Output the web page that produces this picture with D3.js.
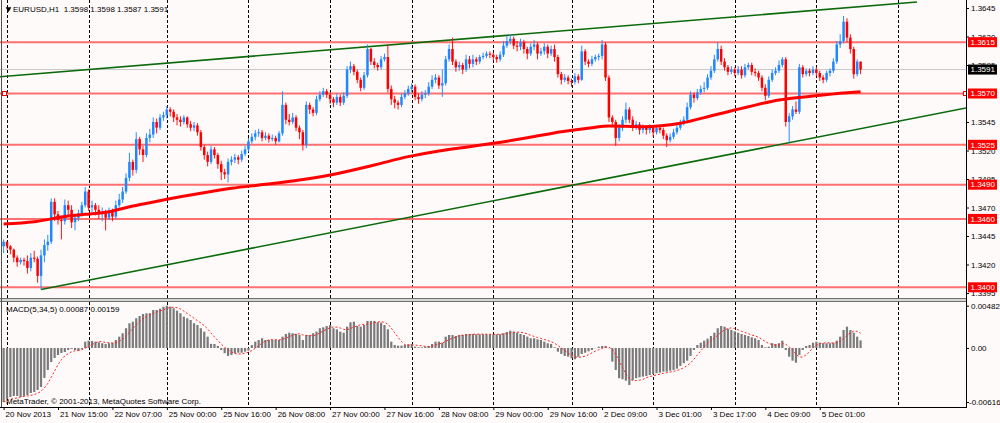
<!DOCTYPE html>
<html>
<head>
<meta charset="utf-8">
<script src="https://cdn.jsdelivr.net/npm/d3@7"></script>
<style>
  html, body { margin: 0; padding: 0; background: #fffafa; }
  svg { display: block; font-family: "Liberation Sans", Arial, sans-serif; }
  text { white-space: pre; }
</style>
</head>
<body>
<div id="chart"></div>
<script>
// EURUSD H1 candles [open, high, low, close], split by trading week
const week1 = [
  [1.3436,1.3442,1.3430,1.3440],[1.3440,1.3440,1.3433,1.3436],[1.3436,1.3437,1.3429,1.3433],[1.3433,1.3434,1.3422,1.3426],
  [1.3426,1.3428,1.3418,1.3422],[1.3422,1.3426,1.3420,1.3424],[1.3424,1.3426,1.3419,1.3423],[1.3423,1.3428,1.3412,1.3417],
  [1.3417,1.3430,1.3414,1.3426],[1.3426,1.3432,1.3422,1.3425],[1.3425,1.3427,1.3404,1.3410],[1.3410,1.3433,1.3398,1.3428],
  [1.3428,1.3442,1.3422,1.3437],[1.3437,1.3446,1.3432,1.3440],[1.3440,1.3478,1.3438,1.3475],[1.3475,1.3478,1.3458,1.3464],
  [1.3464,1.3467,1.3455,1.3459],[1.3459,1.3462,1.3442,1.3458],[1.3458,1.3477,1.3455,1.3472],[1.3472,1.3476,1.3462,1.3468],
  [1.3468,1.3472,1.3452,1.3457],[1.3457,1.3464,1.3450,1.3461],[1.3461,1.3468,1.3458,1.3465],[1.3465,1.3475,1.3462,1.3472],
  [1.3472,1.3488,1.3470,1.3484],[1.3484,1.3486,1.3467,1.3470],[1.3470,1.3476,1.3466,1.3472],[1.3472,1.3474,1.3463,1.3468],
  [1.3468,1.3472,1.3460,1.3464],[1.3464,1.3470,1.3458,1.3466],[1.3466,1.3468,1.3450,1.3461],[1.3461,1.3470,1.3459,1.3466],
  [1.3466,1.3469,1.3458,1.3462],[1.3462,1.3476,1.3460,1.3472],[1.3472,1.3482,1.3470,1.3477],[1.3477,1.3488,1.3474,1.3484],
  [1.3484,1.3500,1.3482,1.3496],[1.3496,1.3518,1.3493,1.3510],[1.3510,1.3512,1.3498,1.3503],[1.3503,1.3536,1.3500,1.3530],
  [1.3530,1.3532,1.3516,1.3521],[1.3521,1.3524,1.3510,1.3516],[1.3516,1.3535,1.3514,1.3531],[1.3531,1.3539,1.3527,1.3534],
  [1.3534,1.3549,1.3531,1.3545],[1.3545,1.3548,1.3535,1.3540],[1.3540,1.3552,1.3538,1.3549],[1.3549,1.3554,1.3546,1.3551]
];
const week2 = [
  [1.3551,1.3559,1.3548,1.3556],[1.3556,1.3558,1.3550,1.3554],[1.3554,1.3556,1.3545,1.3549],[1.3549,1.3552,1.3542,1.3547],
  [1.3547,1.3550,1.3541,1.3545],[1.3545,1.3551,1.3543,1.3549],[1.3549,1.3550,1.3540,1.3543],[1.3543,1.3546,1.3537,1.3540],
  [1.3540,1.3545,1.3537,1.3542],[1.3542,1.3544,1.3533,1.3536],[1.3536,1.3538,1.3520,1.3523],[1.3523,1.3525,1.3512,1.3516],
  [1.3516,1.3519,1.3506,1.3510],[1.3510,1.3524,1.3508,1.3521],[1.3521,1.3523,1.3513,1.3516],[1.3516,1.3518,1.3504,1.3508],
  [1.3508,1.3511,1.3494,1.3501],[1.3501,1.3504,1.3495,1.3499],[1.3499,1.3513,1.3492,1.3510],[1.3510,1.3515,1.3507,1.3512],
  [1.3512,1.3517,1.3509,1.3514],[1.3514,1.3516,1.3508,1.3512],[1.3512,1.3520,1.3510,1.3517],[1.3517,1.3524,1.3515,1.3521],
  [1.3521,1.3531,1.3519,1.3528],[1.3528,1.3535,1.3526,1.3532],[1.3532,1.3538,1.3529,1.3535],[1.3535,1.3539,1.3532,1.3536],
  [1.3536,1.3538,1.3528,1.3531],[1.3531,1.3536,1.3529,1.3533],[1.3533,1.3535,1.3527,1.3530],[1.3530,1.3534,1.3528,1.3531],
  [1.3531,1.3533,1.3525,1.3528],[1.3528,1.3537,1.3527,1.3535],[1.3535,1.3572,1.3533,1.3560],[1.3560,1.3562,1.3543,1.3547],
  [1.3547,1.3552,1.3542,1.3545],[1.3545,1.3553,1.3543,1.3549],[1.3549,1.3551,1.3537,1.3540],[1.3540,1.3542,1.3530,1.3536],
  [1.3536,1.3538,1.3520,1.3525],[1.3525,1.3563,1.3522,1.3560],[1.3560,1.3562,1.3552,1.3556],[1.3556,1.3558,1.3550,1.3553],
  [1.3553,1.3568,1.3551,1.3565],[1.3565,1.3572,1.3563,1.3569],[1.3569,1.3575,1.3567,1.3572],[1.3572,1.3574,1.3566,1.3569],
  [1.3569,1.3571,1.3561,1.3565],[1.3565,1.3567,1.3558,1.3562],[1.3562,1.3570,1.3560,1.3567],[1.3567,1.3569,1.3559,1.3562],
  [1.3562,1.3571,1.3560,1.3568],[1.3568,1.3594,1.3566,1.3591],[1.3591,1.3598,1.3588,1.3594],[1.3594,1.3596,1.3586,1.3589],
  [1.3589,1.3591,1.3579,1.3582],[1.3582,1.3584,1.3572,1.3575],[1.3575,1.3589,1.3573,1.3586],[1.3586,1.3613,1.3584,1.3609],
  [1.3609,1.3610,1.3595,1.3598],[1.3598,1.3601,1.3592,1.3595],[1.3595,1.3597,1.3590,1.3593],[1.3593,1.3603,1.3591,1.3600],
  [1.3600,1.3605,1.3598,1.3602],[1.3602,1.3613,1.3571,1.3574],[1.3574,1.3577,1.3560,1.3565],[1.3565,1.3568,1.3557,1.3562],
  [1.3562,1.3564,1.3556,1.3560],[1.3560,1.3570,1.3558,1.3567],[1.3567,1.3573,1.3565,1.3570],[1.3570,1.3577,1.3568,1.3574],
  [1.3574,1.3579,1.3571,1.3576],[1.3576,1.3578,1.3564,1.3567],[1.3567,1.3570,1.3561,1.3565],[1.3565,1.3572,1.3563,1.3569],
  [1.3569,1.3573,1.3566,1.3570],[1.3570,1.3580,1.3568,1.3576],[1.3576,1.3586,1.3574,1.3582],[1.3582,1.3587,1.3579,1.3584],
  [1.3584,1.3586,1.3574,1.3577],[1.3577,1.3591,1.3567,1.3579],[1.3579,1.3603,1.3577,1.3600],[1.3600,1.3613,1.3598,1.3609],
  [1.3609,1.3619,1.3595,1.3598],[1.3598,1.3600,1.3589,1.3593],[1.3593,1.3598,1.3590,1.3595],[1.3595,1.3597,1.3587,1.3591],
  [1.3591,1.3604,1.3589,1.3600],[1.3600,1.3603,1.3592,1.3596],[1.3596,1.3604,1.3593,1.3600],[1.3600,1.3602,1.3595,1.3598],
  [1.3598,1.3604,1.3596,1.3602],[1.3602,1.3606,1.3600,1.3603],[1.3603,1.3607,1.3601,1.3605],[1.3605,1.3607,1.3601,1.3604],
  [1.3604,1.3606,1.3599,1.3602],[1.3602,1.3604,1.3597,1.3600],[1.3600,1.3607,1.3598,1.3604],[1.3604,1.3616,1.3602,1.3612],
  [1.3612,1.3620,1.3610,1.3616],[1.3616,1.3622,1.3613,1.3618],[1.3618,1.3620,1.3609,1.3612],[1.3612,1.3616,1.3607,1.3611],
  [1.3611,1.3618,1.3608,1.3615],[1.3615,1.3617,1.3605,1.3609],[1.3609,1.3611,1.3600,1.3605],[1.3605,1.3614,1.3603,1.3611],
  [1.3611,1.3617,1.3608,1.3613],[1.3613,1.3615,1.3600,1.3605],[1.3605,1.3610,1.3603,1.3607],[1.3607,1.3614,1.3604,1.3611],
  [1.3611,1.3613,1.3601,1.3605],[1.3605,1.3612,1.3603,1.3609],[1.3609,1.3613,1.3598,1.3602],[1.3602,1.3604,1.3584,1.3587],
  [1.3587,1.3589,1.3578,1.3582],[1.3582,1.3587,1.3580,1.3584],[1.3584,1.3586,1.3578,1.3581]
];
const week3 = [
  [1.3581,1.3583,1.3576,1.3580],[1.3580,1.3588,1.3578,1.3585],[1.3585,1.3587,1.3579,1.3582],[1.3582,1.3612,1.3581,1.3607],
  [1.3607,1.3609,1.3595,1.3598],[1.3598,1.3600,1.3593,1.3596],[1.3596,1.3603,1.3594,1.3600],[1.3600,1.3604,1.3598,1.3602],
  [1.3602,1.3605,1.3599,1.3603],[1.3603,1.3617,1.3600,1.3613],[1.3613,1.3615,1.3581,1.3584],[1.3584,1.3586,1.3545,1.3549],
  [1.3549,1.3551,1.3541,1.3545],[1.3545,1.3547,1.3524,1.3531],[1.3531,1.3543,1.3528,1.3540],[1.3540,1.3550,1.3537,1.3547],
  [1.3547,1.3562,1.3544,1.3556],[1.3556,1.3558,1.3544,1.3547],[1.3547,1.3550,1.3537,1.3540],[1.3540,1.3546,1.3538,1.3543],
  [1.3543,1.3545,1.3534,1.3538],[1.3538,1.3543,1.3535,1.3540],[1.3540,1.3542,1.3534,1.3538],[1.3538,1.3543,1.3535,1.3540],
  [1.3540,1.3542,1.3532,1.3536],[1.3536,1.3542,1.3534,1.3540],[1.3540,1.3542,1.3535,1.3538],[1.3538,1.3540,1.3530,1.3533],
  [1.3533,1.3535,1.3523,1.3529],[1.3529,1.3535,1.3527,1.3532],[1.3532,1.3539,1.3530,1.3536],[1.3536,1.3543,1.3534,1.3540],
  [1.3540,1.3547,1.3538,1.3544],[1.3544,1.3550,1.3542,1.3547],[1.3547,1.3562,1.3545,1.3558],[1.3558,1.3572,1.3556,1.3569],
  [1.3569,1.3571,1.3562,1.3566],[1.3566,1.3574,1.3564,1.3571],[1.3571,1.3577,1.3569,1.3574],[1.3574,1.3580,1.3571,1.3575],
  [1.3575,1.3587,1.3573,1.3584],[1.3584,1.3594,1.3582,1.3590],[1.3590,1.3604,1.3588,1.3600],[1.3600,1.3615,1.3598,1.3609],
  [1.3609,1.3612,1.3595,1.3598],[1.3598,1.3601,1.3590,1.3593],[1.3593,1.3595,1.3586,1.3589],[1.3589,1.3594,1.3587,1.3591],
  [1.3591,1.3593,1.3585,1.3588],[1.3588,1.3594,1.3586,1.3591],[1.3591,1.3594,1.3583,1.3586],[1.3586,1.3596,1.3584,1.3593],
  [1.3593,1.3597,1.3591,1.3595],[1.3595,1.3597,1.3586,1.3589],[1.3589,1.3592,1.3585,1.3588],[1.3588,1.3590,1.3581,1.3584],
  [1.3584,1.3586,1.3572,1.3575],[1.3575,1.3578,1.3564,1.3568],[1.3568,1.3585,1.3566,1.3582],[1.3582,1.3591,1.3580,1.3588],
  [1.3588,1.3593,1.3586,1.3590],[1.3590,1.3599,1.3588,1.3595],[1.3595,1.3602,1.3593,1.3600],[1.3600,1.3602,1.3541,1.3545],
  [1.3545,1.3553,1.3527,1.3550],[1.3550,1.3559,1.3547,1.3556],[1.3556,1.3563,1.3552,1.3554],[1.3554,1.3596,1.3552,1.3593],
  [1.3593,1.3595,1.3584,1.3587],[1.3587,1.3592,1.3585,1.3590],[1.3590,1.3592,1.3585,1.3588],[1.3588,1.3594,1.3586,1.3591],
  [1.3591,1.3593,1.3585,1.3588],[1.3588,1.3590,1.3581,1.3584],[1.3584,1.3586,1.3579,1.3582],[1.3582,1.3590,1.3580,1.3588],
  [1.3588,1.3592,1.3585,1.3590],[1.3590,1.3601,1.3588,1.3598],[1.3598,1.3616,1.3596,1.3613],[1.3613,1.3622,1.3610,1.3616],
  [1.3616,1.3638,1.3614,1.3633],[1.3633,1.3636,1.3615,1.3619],[1.3619,1.3622,1.3605,1.3609],[1.3609,1.3611,1.3583,1.3587],
  [1.3587,1.3600,1.3585,1.3598],[1.3598,1.3598,1.3587,1.3591]
];

// MACD(5,34,5) main line, same bar order
const macd1 = [
  -0.00616,-0.00581,-0.00559,-0.00547,-0.00547,-0.00559,-0.00547,-0.00536,-0.00513,-0.00502,
  -0.00479,-0.00445,-0.00342,-0.00251,-0.00160,-0.00114,-0.00080,-0.00057,-0.00046,-0.00023,
  -0.00011,-0.00023,-0.00034,-0.00011,0.00072,0.00083,0.00080,0.00072,0.00065,0.00054,
  0.00046,0.00054,0.00060,0.00091,0.00129,0.00168,0.00225,0.00282,0.00300,0.00339,
  0.00365,0.00388,0.00396,0.00396,0.00433,0.00433,0.00448,0.00470
];
const macd2 = [
  0.00482,0.00471,0.00453,0.00425,0.00396,0.00357,0.00339,0.00319,0.00282,0.00262,
  0.00225,0.00186,0.00129,0.00046,0.00046,0.00023,-0.00023,-0.00060,-0.00091,-0.00080,
  -0.00060,-0.00054,-0.00054,-0.00042,-0.00031,0.00034,0.00072,0.00091,0.00111,0.00091,
  0.00091,0.00091,0.00091,0.00091,0.00129,0.00160,0.00174,0.00168,0.00160,0.00148,
  0.00091,0.00148,0.00148,0.00168,0.00186,0.00225,0.00236,0.00251,0.00262,0.00225,
  0.00213,0.00186,0.00174,0.00243,0.00293,0.00300,0.00251,0.00243,0.00262,0.00308,
  0.00308,0.00308,0.00293,0.00288,0.00262,0.00213,0.00072,0.00034,0.00026,0.00026,
  0.00034,0.00042,0.00046,0.00015,0.00008,0.00008,0.00015,0.00023,0.00046,0.00072,
  0.00072,0.00060,0.00129,0.00148,0.00148,0.00137,0.00148,0.00148,0.00160,0.00160,
  0.00160,0.00156,0.00156,0.00156,0.00156,0.00156,0.00156,0.00156,0.00156,0.00168,
  0.00182,0.00197,0.00186,0.00174,0.00160,0.00148,0.00129,0.00111,0.00111,0.00099,
  0.00091,0.00072,0.00054,0.00046,0.00008,-0.00042,-0.00068,-0.00091,-0.00099
];
const macd3 = [
  -0.00117,-0.00129,-0.00099,-0.00068,-0.00054,-0.00038,-0.00023,-0.00003,0.00015,0.00023,
  0.00023,-0.00003,-0.00156,-0.00251,-0.00345,-0.00357,-0.00373,-0.00422,-0.00365,-0.00345,
  -0.00334,-0.00327,-0.00319,-0.00308,-0.00296,-0.00288,-0.00282,-0.00270,-0.00270,-0.00259,
  -0.00251,-0.00236,-0.00205,-0.00174,-0.00145,-0.00091,-0.00023,0.00034,0.00060,0.00083,
  0.00106,0.00137,0.00174,0.00225,0.00251,0.00243,0.00220,0.00205,0.00190,0.00174,
  0.00160,0.00148,0.00137,0.00122,0.00111,0.00091,0.00034,0.00008,0.00015,0.00054,
  0.00046,0.00054,0.00083,-0.00023,-0.00099,-0.00145,-0.00168,-0.00080,-0.00023,0.00023,
  0.00034,0.00060,0.00072,0.00060,0.00054,0.00054,0.00054,0.00060,0.00083,0.00129,
  0.00205,0.00243,0.00205,0.00174,0.00129,0.00087
];

// moving average read at sample bars
const maBars   = [0, 9, 19, 24, 31, 38, 43, 48, 58, 67, 77, 87, 96, 109, 119, 128, 137, 144, 154, 164, 173, 178, 188, 199, 209, 219, 228, 238, 248, 252];
const maValues = [1.34555, 1.34575, 1.34625, 1.34640, 1.34663, 1.34713, 1.34742, 1.34772, 1.34825, 1.34868,
                  1.34903, 1.34941, 1.34985, 1.35073, 1.35146, 1.35196, 1.35233, 1.35263, 1.35312, 1.35365,
                  1.35400, 1.35415, 1.35409, 1.35439, 1.35511, 1.35584, 1.35643, 1.35678, 1.35707, 1.35716];

// trend lines (bar index, price)
const upperTrend = [[-1.06, 1.35847], [268.6, 1.36503]];
const lowerTrend = [[11, 1.33980], [283, 1.35573]];

const levels = [1.3615, 1.3570, 1.3525, 1.3490, 1.3460, 1.3400];
const bidPrice = 1.3591;
// 1.3570 sits fully under its own tag, so it is left out
const priceTicks = [1.3645, 1.3620, 1.3595, 1.3545, 1.3520, 1.3495, 1.3470, 1.3445, 1.3420, 1.3395];
const macdTicks = [0.00482, 0, -0.00616];

const gridBars = [1, 25, 48, 72, 96, 120, 144, 167, 191, 215, 239, 263];
const labelBars = [0, 16, 32, 48, 64, 80, 96, 112, 128, 144, 160, 176, 192, 208, 224, 240];
const labelTexts = ['20 Nov 2013', '21 Nov 15:00', '22 Nov 07:00', '25 Nov 00:00', '25 Nov 16:00', '26 Nov 08:00',
  '27 Nov 00:00', '27 Nov 16:00', '28 Nov 08:00', '29 Nov 00:00', '29 Nov 16:00', '2 Dec 09:00',
  '3 Dec 01:00', '3 Dec 17:00', '4 Dec 09:00', '5 Dec 01:00'];

const headerText = 'EURUSD,H1  1.3598 1.3598 1.3587 1.3591';
const macdText = 'MACD(5,34,5) 0.00087 0.00159';
const copyText = 'MetaTrader, \u00a9 2001-2013, MetaQuotes Software Corp.';

// ---- layout
const W = 1000, H = 423;
const plotRight = 966;
const mainBottom = 298;
const macdTop = 302, macdBottom = 407;

const bars = week1.concat(week2, week3).map((r, i) => ({ i, o: r[0], h: r[1], l: r[2], c: r[3] }));
const macd = macd1.concat(macd2, macd3);
// signal line: simple average of the last 5 MACD values
const signal = macd.map((v, i) => d3.mean(macd.slice(Math.max(0, i - 4), i + 1)));

const x = d3.scaleLinear().domain([0, 283]).range([3.6, plotRight]);
const y = d3.scaleLinear().domain([1.3395, 1.3645]).range([293, 8]);
const yM = d3.scaleLinear().domain([-0.00616, 0.00482]).range([402, 305.7]);

const svg = d3.select('#chart').append('svg')
  .attr('width', W).attr('height', H);

svg.append('rect').attr('width', W).attr('height', H).attr('fill', '#fffafa');

const defs = svg.append('defs');
defs.append('clipPath').attr('id', 'clipMain')
  .append('rect').attr('x', 0).attr('y', 0).attr('width', plotRight).attr('height', mainBottom);
defs.append('clipPath').attr('id', 'clipMacd')
  .append('rect').attr('x', 0).attr('y', macdTop).attr('width', plotRight).attr('height', macdBottom - macdTop);

const main = svg.append('g').attr('clip-path', 'url(#clipMain)');
const sub = svg.append('g').attr('clip-path', 'url(#clipMacd)');

// vertical dotted grid
[[main, 0, mainBottom], [sub, macdTop, macdBottom]].forEach(([g, y0, y1]) => {
  g.selectAll('line.grid')
    .data(gridBars)
    .join('line')
    .attr('class', 'grid')
    .attr('x1', d => Math.round(x(d)) + 0.5)
    .attr('x2', d => Math.round(x(d)) + 0.5)
    .attr('y1', y0).attr('y2', y1)
    .attr('stroke', '#000')
    .attr('stroke-width', 1)
    .attr('stroke-dasharray', '3,2');
});

// bid line
main.append('line')
  .attr('x1', 0).attr('x2', plotRight)
  .attr('y1', y(bidPrice)).attr('y2', y(bidPrice))
  .attr('stroke', '#c8c8c8').attr('stroke-width', 1);

// horizontal levels
main.selectAll('line.level')
  .data(levels)
  .join('line')
  .attr('class', 'level')
  .attr('x1', 0).attr('x2', plotRight)
  .attr('y1', d => y(d)).attr('y2', d => y(d))
  .attr('stroke', '#ff7070').attr('stroke-width', 2);

// trend lines
const trendLine = d3.line().x(d => x(d[0])).y(d => y(d[1]));
[upperTrend, lowerTrend].forEach(t => {
  main.append('path')
    .attr('d', trendLine(t))
    .attr('fill', 'none')
    .attr('stroke', '#0b6a0b')
    .attr('stroke-width', 1.6);
});

// candles
const candle = main.selectAll('g.bar')
  .data(bars)
  .join('g')
  .attr('class', 'bar');

candle.append('line')
  .attr('x1', d => x(d.i)).attr('x2', d => x(d.i))
  .attr('y1', d => y(d.h)).attr('y2', d => y(d.l))
  .attr('stroke', d => d.c >= d.o ? '#2b8cff' : '#ff1414')
  .attr('stroke-width', 1);

candle.append('rect')
  .attr('x', d => x(d.i) - 1.25)
  .attr('width', 2.5)
  .attr('y', d => y(Math.max(d.o, d.c)))
  .attr('height', d => Math.max(1, Math.abs(y(d.o) - y(d.c))))
  .attr('fill', d => d.c >= d.o ? '#1e88ff' : '#ff0000');

// moving average
main.append('path')
  .datum(maBars.map((b, k) => [b, maValues[k]]))
  .attr('d', d3.line().x(d => x(d[0])).y(d => y(d[1])).curve(d3.curveMonotoneX))
  .attr('fill', 'none')
  .attr('stroke', '#ff0000')
  .attr('stroke-width', 3);

// selection squares of the chosen level
[0, plotRight - 5].forEach(sx => {
  main.append('rect')
    .attr('x', sx + 2.5).attr('y', y(1.3570) - 2)
    .attr('width', 4).attr('height', 4)
    .attr('fill', '#fff').attr('stroke', '#ff0000').attr('stroke-width', 1);
});

// MACD histogram and signal
sub.selectAll('rect.hist')
  .data(macd)
  .join('rect')
  .attr('class', 'hist')
  .attr('x', (d, i) => x(i) - 1.1)
  .attr('width', 2.2)
  .attr('y', d => Math.min(yM(d), yM(0)))
  .attr('height', d => Math.abs(yM(d) - yM(0)))
  .attr('fill', '#7a7a7a');

sub.append('path')
  .datum(signal)
  .attr('d', d3.line().x((d, i) => x(i)).y(d => yM(d)))
  .attr('fill', 'none')
  .attr('stroke', '#ff2020')
  .attr('stroke-width', 1)
  .attr('stroke-dasharray', '2,2');

// frames
svg.append('rect')
  .attr('x', 0).attr('y', mainBottom).attr('width', plotRight).attr('height', macdTop - mainBottom)
  .attr('fill', '#d6d6d6');
[mainBottom + 0.5, macdTop - 0.5].forEach(yy => {
  svg.append('line').attr('x1', 0).attr('x2', plotRight).attr('y1', yy).attr('y2', yy)
    .attr('stroke', '#707070').attr('stroke-width', 1);
});
svg.append('line').attr('x1', 1.5).attr('x2', 1.5).attr('y1', 0).attr('y2', macdBottom)
  .attr('stroke', '#505050');
svg.append('line').attr('x1', plotRight + 0.5).attr('x2', plotRight + 0.5).attr('y1', 0).attr('y2', macdBottom)
  .attr('stroke', '#000');
svg.append('line').attr('x1', 0).attr('x2', plotRight + 1).attr('y1', macdBottom + 0.5).attr('y2', macdBottom + 0.5)
  .attr('stroke', '#000');

// right price axis
const priceAxis = svg.append('g')
  .attr('transform', `translate(${plotRight},0)`)
  .call(d3.axisRight(y).tickValues(priceTicks).tickSize(3).tickPadding(2).tickFormat(d3.format('.4f')));
priceAxis.select('.domain').remove();
priceAxis.selectAll('text').attr('font-size', '8px').attr('font-family', '"Liberation Sans", Arial, sans-serif').attr('fill', '#000');
priceAxis.selectAll('line').attr('stroke', '#000');

// MACD axis
const macdAxis = svg.append('g')
  .attr('transform', `translate(${plotRight},0)`)
  .call(d3.axisRight(yM).tickValues(macdTicks).tickSize(3).tickPadding(2)
    .tickFormat(d => d === 0 ? '0.00' : d.toFixed(5)));
macdAxis.select('.domain').remove();
macdAxis.selectAll('text').attr('font-size', '8px').attr('font-family', '"Liberation Sans", Arial, sans-serif').attr('fill', '#000')
  .attr('dx', d => d < 0 ? -2 : 0);
macdAxis.selectAll('line').attr('stroke', '#000');

// price tags on the axis
const tags = levels.map(p => ({ p, bg: '#ff0000' })).concat([{ p: bidPrice, bg: '#000' }]);
const tag = svg.selectAll('g.tag')
  .data(tags)
  .join('g')
  .attr('class', 'tag')
  .attr('transform', d => `translate(968,${y(d.p)})`);
tag.append('rect')
  .attr('x', 0).attr('y', -5)
  .attr('width', 29).attr('height', 10)
  .attr('fill', d => d.bg);
tag.append('text')
  .attr('x', 2.5).attr('dy', '0.34em')
  .attr('font-size', '8px')
  .attr('fill', '#fff')
  .text(d => d3.format('.4f')(d.p));

// time axis
const timeAxis = svg.append('g')
  .attr('transform', `translate(0,${macdBottom})`)
  .call(d3.axisBottom(x).tickValues(labelBars).tickSize(3).tickPadding(1)
    .tickFormat((d, k) => labelTexts[k]));
timeAxis.select('.domain').remove();
timeAxis.selectAll('line').attr('stroke', '#000');
timeAxis.selectAll('text')
  .attr('text-anchor', 'start')
  .attr('x', 1.5)
  .attr('font-size', '8px')
  .attr('font-family', '"Liberation Sans", Arial, sans-serif')
  .attr('fill', '#000');

// captions
svg.append('path')
  .attr('d', d3.symbol().type(d3.symbolTriangle).size(14)())
  .attr('transform', 'translate(8.5,9) rotate(180)')
  .attr('fill', '#000');
svg.append('text')
  .attr('x', 13).attr('y', 12)
  .attr('font-size', '8px').attr('fill', '#000')
  .text(headerText);
svg.append('text')
  .attr('x', 6).attr('y', 312)
  .attr('font-size', '8px').attr('fill', '#000')
  .text(macdText);
svg.append('text')
  .attr('x', 6).attr('y', 404)
  .attr('font-size', '8px').attr('fill', '#000')
  .text(copyText);
</script>
</body>
</html>
